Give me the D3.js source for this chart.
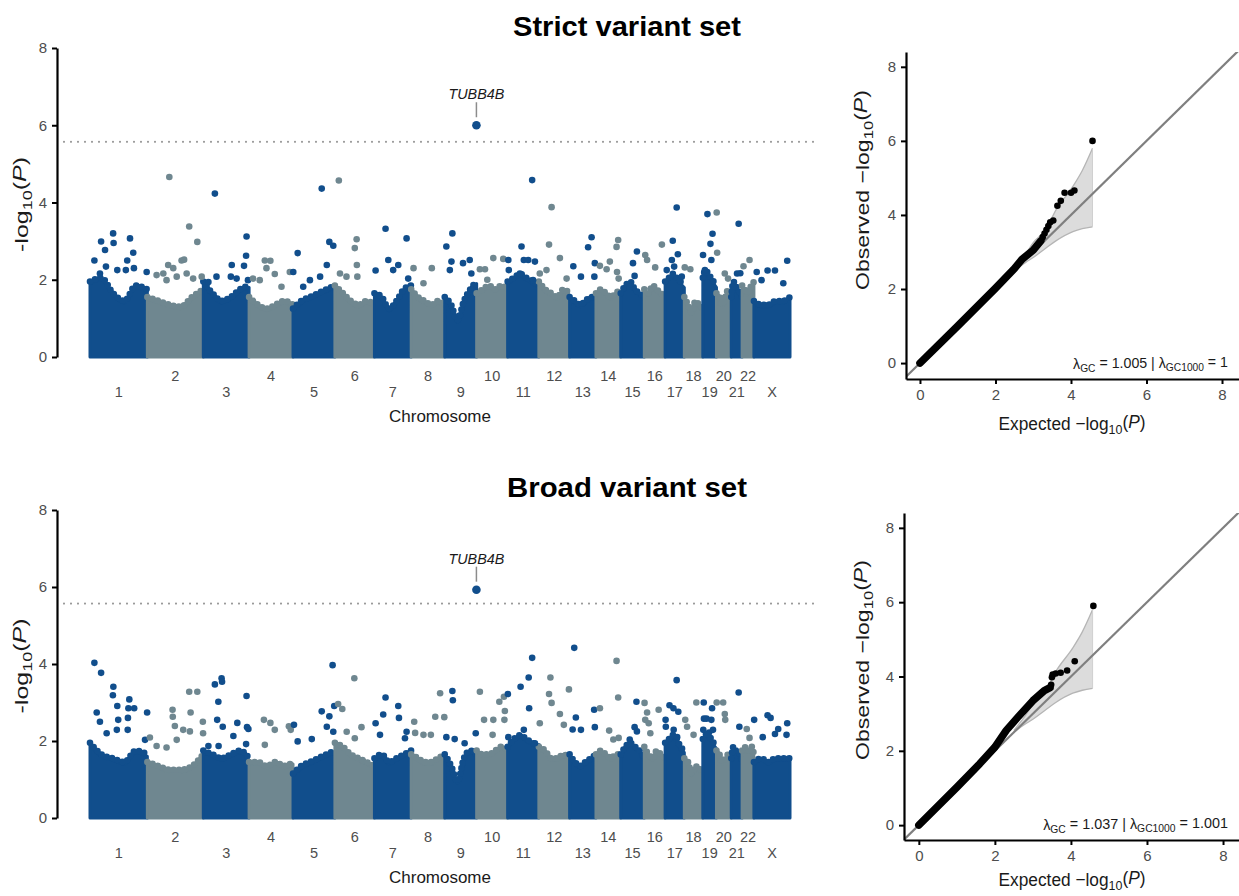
<!DOCTYPE html>
<html>
<head>
<meta charset="utf-8">
<script src="https://cdn.jsdelivr.net/npm/d3@7"></script>
<style>
  body { margin: 0; background: #fff; }
  text { font-family: "Liberation Sans", Arial, sans-serif; }
</style>
</head>
<body>
<script>
// chromosomes and their lengths (Mb)
const chromosomes = ["1","2","3","4","5","6","7","8","9","10","11","12","13","14","15","16","17","18","19","20","21","22","X"];
const chromLengthMb = [248,242,198,190,181,171,159,145,138,134,135,133,114,107,102,90,83,80,59,64,47,51,156];
const yTicks = [0, 2, 4, 6, 8];
const qqTicks = [0, 2, 4, 6, 8];
const suggestive = 5.57;

// top of the dense band of points, per chromosome, evenly spaced along it
const strictBand = [
  [1.9,2.0,1.6,1.4,1.8,1.7],[1.5,1.4,1.3,1.25,1.5,1.7],[1.9,1.6,1.4,1.5,1.7,1.8],[1.5,1.3,1.2,1.3,1.4,1.3],
  [1.2,1.4,1.5,1.6,1.7,1.8],[1.8,1.6,1.4,1.3,1.4,1.3],[1.6,1.5,1.2,1.4,1.7,1.8],[1.7,1.5,1.4,1.3,1.4,1.3],
  [1.5,1.3,0.9,1.4,1.7,1.9],[1.6,1.7,1.8,1.7,1.8,1.7],[1.9,2.0,2.1,2.0,1.9,1.8],[1.9,1.7,1.6,1.5,1.7,1.6],
  [1.5,1.4,1.3,1.4,1.5,1.5],[1.6,1.7,1.6,1.5,1.6,1.7],[1.6,1.8,1.9,1.7,1.6,1.5],[1.7,1.6,1.8,1.7,1.6,1.5],
  [1.9,2.0,2.1,2.0,1.9,1.8],[1.5,1.3,1.1,1.4,1.3,1.2],[2.0,2.2,2.1,2.0,1.9,1.8],[1.6,1.5,1.3,1.5,1.7,1.6],
  [1.5,1.9,1.8,1.7,1.6,1.5],[1.8,1.7,1.6,1.7,1.8,1.9],[1.4,1.3,1.3,1.4,1.4,1.5]
];
const broadBand = [
  [1.9,1.6,1.5,1.4,1.7,1.6],[1.4,1.3,1.2,1.2,1.3,1.6],[1.7,1.6,1.5,1.6,1.7,1.5],[1.4,1.4,1.3,1.4,1.3,1.4],
  [1.1,1.3,1.4,1.5,1.6,1.7],[1.9,1.8,1.6,1.5,1.4,1.3],[1.5,1.6,1.4,1.5,1.6,1.7],[1.6,1.5,1.4,1.4,1.5,1.6],
  [1.6,1.3,0.9,1.5,1.7,1.6],[1.7,1.6,1.6,1.7,1.8,1.7],[1.8,2.0,2.1,2.0,1.9,1.8],[1.8,1.7,1.5,1.5,1.6,1.5],
  [1.6,1.4,1.3,1.4,1.5,1.6],[1.6,1.7,1.6,1.5,1.6,1.6],[1.6,1.8,1.9,1.8,1.7,1.5],[1.8,1.6,1.5,1.7,1.6,1.5],
  [1.9,2.0,2.1,2.0,1.8,1.7],[1.5,1.4,1.1,1.3,1.2,1.3],[2.0,2.1,2.2,2.0,1.9,1.8],[1.7,1.6,1.4,1.5,1.6,1.6],
  [1.5,1.8,1.7,1.7,1.6,1.4],[1.7,1.8,1.7,1.7,1.8,1.6],[1.4,1.5,1.4,1.5,1.5,1.5]
];

// scattered variants above the band: [chromosome, position Mb, -log10 P]
const strictPeaks = [
  ["1",19,2.5],["1",43,2.16],["1",48,2.99],["1",65,2.77],["1",69,2.34],["1",100,3.2],["1",102,2.95],["1",118,2.25],
  ["1",155,2.25],["1",161,2.5],["1",173,3.07],["1",187,2.7],["1",190,2.3],["1",245,2.2],
  ["2",40,2.12],["2",69,2.16],["2",83,1.99],["2",90,2.38],["2",95,4.66],["2",112,2.3],["2",127,2.08],["2",148,2.5],
  ["2",159,2.52],["2",170,2.16],["2",181,3.38],["2",198,2.03],["2",216,2.98],["2",235,2.08],
  ["3",22,1.94],["3",50,4.23],["3",57,2.08],["3",119,2.08],["3",123,2.38],["3",144,2.03],["3",176,2.36],
  ["3",185,2.62],["3",187,3.12],["3",193,1.99],
  ["4",17,2.03],["4",46,1.99],["4",68,2.5],["4",75,2.3],["4",92,2.49],["4",111,2.15],["4",140,1.82],["4",176,2.2],
  ["5",1,2.2],["5",20,2.69],["5",44,1.82],["5",73,1.99],["5",117,2.08],["5",124,4.36],["5",146,2.38],["5",157,2.98],["5",174,2.88],
  ["6",17,4.57],["6",22,2.16],["6",50,2.08],["6",86,2.82],["6",94,3.05],["6",95,2.38],["6",97,2.08],
  ["7",5,2.24],["7",48,3.32],["7",60,2.51],["7",81,2.25],["7",103,2.38],["7",139,3.07],["7",146,2.03],
  ["8",10,2.3],["8",53,1.91],["8",89,2.3],
  ["9",7,2.86],["9",22,2.25],["9",29,2.47],["9",33,3.2],["9",79,2.43],["9",108,2.51],["9",115,2.16],
  ["10",14,2.27],["10",36,2.27],["10",46,2.0],["10",72,2.56],["10",115,2.54],
  ["11",3,2.51],["11",5,2.25],["11",53,2.16],["11",60,2.86],["11",70,2.51],["11",89,2.51],["11",106,4.58],["11",110,1.99],["11",118,2.47],
  ["12",4,2.16],["12",33,2.25],["12",44,2.91],["12",55,3.88],["12",91,2.56],["12",120,2.03],
  ["13",16,2.35],["13",49,2.08],["13",80,2.84],["13",95,3.1],["13",107,2.08],["13",109,2.43],
  ["14",17,2.36],["14",46,2.27],["14",60,2.47],["14",89,2.85],["14",91,2.2],["14",96,3.03],["14",98,2.03],
  ["15",39,1.82],["15",53,2.43],["15",60,2.1],["15",70,2.73],
  ["16",4,2.64],["16",12,2.51],["16",47,2.32],["16",76,2.91],
  ["17",7,2.25],["17",29,2.51],["17",33,3.01],["17",39,2.34],["17",50,3.87],["17",55,2.66],["17",72,2.08],
  ["18",2,2.32],["18",26,2.27],
  ["19",1,2.64],["19",9,2.25],["19",20,3.7],["19",33,2.93],["19",37,2.51],["19",42,3.19],
  ["20",1,3.74],["20",3,2.7],["20",36,2.16],["20",50,2.03],
  ["21",25,2.16],["21",32,3.45],["21",39,2.17],
  ["22",6,2.35],["22",32,2.51],
  ["X",12,2.2],["X",33,1.99],["X",59,2.24],["X",91,2.24],["X",127,1.91],["X",144,2.49]
];
const broadPeaks = [
  ["1",19,4.03],["1",29,2.74],["1",43,2.5],["1",48,3.77],["1",72,2.2],["1",99,3.19],["1",101,3.41],["1",116,2.29],
  ["1",118,2.91],["1",122,2.55],["1",163,2.29],["1",164,2.6],["1",166,2.85],["1",170,3.08],["1",191,2.85],["1",238,2.03],["1",247,2.74],
  ["2",11,2.09],["2",40,1.87],["2",83,1.83],["2",109,2.81],["2",110,2.63],["2",119,2.39],["2",127,2.03],["2",155,2.29],
  ["2",181,3.28],["2",184,2.25],["2",187,2.74],["2",216,3.28],["2",240,2.5],["2",241,2.2],
  ["3",22,1.87],["3",50,3.47],["3",60,2.55],["3",65,3.02],["3",66,1.87],["3",79,3.63],["3",81,3.54],["3",84,2.37],
  ["3",130,2.13],["3",147,2.47],["3",185,1.92],["3",187,3.17],["3",189,2.36],["3",195,2.31],
  ["4",64,2.55],["4",68,1.9],["4",92,2.47],["4",111,2.29],["4",172,2.38],["4",180,2.29],
  ["5",4,2.42],["5",20,1.99],["5",81,2.05],["5",124,2.77],["5",146,2.37],["5",157,2.64],["5",171,3.97],["5",174,2.24],["5",178,2.91],
  ["6",14,2.96],["6",32,2.83],["6",51,2.24],["6",84,3.63],["6",86,2.07],["6",115,2.36],
  ["7",5,2.46],["7",24,2.16],["7",38,2.69],["7",48,3.13],["7",103,2.91],["7",106,2.6],["7",132,2.07],["7",139,2.24],
  ["8",13,2.5],["8",17,2.21],["8",53,2.16],["8",85,2.16],["8",104,2.63],["8",125,3.24],["8",143,2.62],
  ["9",7,2.1],["9",33,3.3],["9",35,3.06],["9",43,2.05],["9",86,1.94],["9",134,2.2],
  ["10",14,3.28],["10",32,2.55],["10",69,2.16],["10",72,2.55],["10",98,3.02],["10",118,3.15],["10",120,2.55],["10",122,2.78],
  ["11",1,3.22],["11",3,2.1],["11",56,3.41],["11",70,2.29],["11",91,3.65],["11",93,2.85],["11",106,4.16],["11",118,1.94],
  ["12",4,2.46],["12",44,3.22],["12",50,3.65],["12",55,2.99],["12",91,2.7],["12",108,2.42],["12",130,3.34],
  ["13",13,2.3],["13",20,4.42],["13",27,2.61],["13",49,2.29],["13",106,2.81],["13",109,2.36],
  ["14",17,2.85],["14",57,2.27],["14",75,2.04],["14",89,4.08],["14",96,3.13],["14",98,2.08],
  ["15",39,2.04],["15",60,2.36],["15",68,3.02],["15",70,2.25],
  ["16",1,2.99],["16",4,2.55],["16",12,2.74],["16",19,2.46],["16",26,2.2],["16",62,2.81],
  ["17",2,2.55],["17",3,2.37],["17",19,2.93],["17",36,2.85],["17",37,2.29],["17",50,3.58],["17",52,2.1],["17",57,2.76],
  ["18",4,2.55],["18",12,2.37],["18",40,2.16],["18",52,3.0],
  ["19",2,2.29],["19",4,3.0],["19",5,2.58],["19",16,2.58],["19",37,2.55],["19",40,2.85],["19",44,2.29],
  ["20",1,3.0],["20",29,3.0],["20",36,2.7],["20",38,2.55],
  ["21",32,3.26],["21",35,2.37],
  ["22",20,2.31],["22",32,2.08],
  ["X",1,2.55],["X",38,2.1],["X",59,2.67],["X",72,2.6],["X",91,2.18],["X",105,2.31],["X",141,2.16],["X",144,2.46]
];
const strictHit = { chrom: "9", pos: 137, value: 6.0, gene: "TUBB4B" };
const broadHit = { chrom: "9", pos: 137, value: 5.93, gene: "TUBB4B" };

// QQ: dense trail of points along the diagonal, then the sparse tail [expected, observed]
const strictTrail = [[0,0],[1,1],[2,2.02],[2.5,2.55],[2.7,2.8],[3.0,3.05],[3.2,3.3]];
const strictTail = [[3.25,3.4],[3.3,3.5],[3.35,3.6],[3.4,3.7],[3.45,3.8],[3.53,3.85],[3.64,4.25],[3.73,4.38],[3.83,4.6],[4.0,4.6],[4.09,4.66],[4.57,6.0]];
const broadTrail = [[0,0],[1,1.02],[1.6,1.65],[2.0,2.1],[2.3,2.55],[2.6,2.9],[3.0,3.35],[3.3,3.62],[3.45,3.7]];
const broadTail = [[3.48,3.78],[3.5,3.98],[3.52,4.05],[3.6,4.08],[3.73,4.1],[3.9,4.16],[4.1,4.41],[4.59,5.9]];
// 95% band: [expected, lower, upper]
const ciBand = [[2.5,2.5,2.55],[2.8,2.72,2.95],[3.0,2.85,3.25],[3.33,3.1,3.6],[3.6,3.3,4.13],[4.05,3.55,4.77],[4.3,3.63,5.2],[4.57,3.68,5.8]];
const strictLambda = ["1.005", "1"];
const broadLambda = ["1.037", "1.001"];

const darkBlue = "#114e8c", slate = "#6f8790";
const tickGrey = "#4d4d4d";

const svg = d3.select("body").append("svg").attr("width", 1239).attr("height", 896);

const starts = [0, ...d3.cumsum(chromLengthMb)].slice(0, chromosomes.length);
const genome = d3.sum(chromLengthMb);
const x = d3.scaleLinear().domain([0, genome]).range([90, 790]);
const colorOf = ci => ci % 2 === 0 ? darkBlue : slate;

function logLabel(t, prefix, minus) {
  t.append("tspan").text(prefix + (minus ? "\u2212" : "-") + "log");
  t.append("tspan").attr("font-size", "0.72em").attr("dy", "0.3em").text("10");
  t.append("tspan").attr("dy", "-0.3em").text("(");
  t.append("tspan").attr("font-style", "italic").text("P");
  t.append("tspan").text(")");
}

// stretch a text along its own direction so it covers `len` pixels
function fit(t, len) {
  const n = t.node().getComputedTextLength();
  t.attr("transform", (t.attr("transform") || "") + ` scale(${len / n},1)`);
  return t;
}

function styleAxis(g) {
  g.select(".domain").attr("stroke", "#000").attr("stroke-width", 2.2);
  g.selectAll(".tick line").attr("stroke", "#000").attr("stroke-width", 2);
  g.selectAll(".tick text").attr("fill", tickGrey).attr("font-size", 15)
    .attr("font-family", "Liberation Sans, Arial, sans-serif");
}

function manhattan(o) {
  const y = d3.scaleLinear().domain([0, 8]).range([o.y0, o.y8]);
  const g = svg.append("g");

  fit(g.append("text").attr("transform", `translate(627,${o.titleY})`).attr("text-anchor", "middle")
    .attr("font-size", 28).attr("font-weight", "bold").text(o.title), o.titleLen);

  // dense band, with a dotted fringe along its top
  const area = d3.area().x(d => x(d[0])).y0(y(0)).y1(d => y(d[1])).curve(d3.curveMonotoneX);
  const top = d3.line().x(d => x(d[0])).y(d => y(d[1])).curve(d3.curveMonotoneX);
  o.band.forEach((vals, ci) => {
    const pts = vals.map((v, i) => [starts[ci] + chromLengthMb[ci] * i / (vals.length - 1), v]);
    g.append("path").attr("d", area(pts)).attr("fill", colorOf(ci))
      .attr("stroke", colorOf(ci)).attr("stroke-width", 3).attr("stroke-linejoin", "round");
    g.append("path").attr("d", top(pts)).attr("fill", "none").attr("stroke", colorOf(ci))
      .attr("stroke-width", 6.6).attr("stroke-linecap", "round").attr("stroke-dasharray", "0 5.5")
      .attr("transform", "translate(0,-2)");
  });

  // scattered points
  g.selectAll(".pk").data(o.peaks).join("circle")
    .attr("cx", d => x(starts[chromosomes.indexOf(d[0])] + d[1]))
    .attr("cy", d => y(d[2])).attr("r", 3.3)
    .attr("fill", d => colorOf(chromosomes.indexOf(d[0])));

  // threshold
  g.append("line").attr("x1", 64).attr("x2", 820).attr("y1", y(suggestive)).attr("y2", y(suggestive))
    .attr("stroke", "#9a9a9a").attr("stroke-width", 2.2).attr("stroke-dasharray", "0 7")
    .attr("stroke-linecap", "round");

  // top hit
  const hx = x(starts[chromosomes.indexOf(o.hit.chrom)] + o.hit.pos), hy = y(o.hit.value);
  g.append("line").attr("x1", hx).attr("x2", hx).attr("y1", hy - 8).attr("y2", hy - 23)
    .attr("stroke", "#8c8c8c").attr("stroke-width", 1.5);
  g.append("circle").attr("cx", hx).attr("cy", hy).attr("r", 4.3).attr("fill", colorOf(chromosomes.indexOf(o.hit.chrom)));
  fit(g.append("text").attr("transform", `translate(${hx},${hy - 26})`).attr("text-anchor", "middle")
    .attr("font-size", 14.5).attr("font-style", "italic").attr("fill", "#1a1a1a").text(o.hit.gene), 56);

  // y axis
  const ya = g.append("g").attr("transform", "translate(57,0)")
    .call(d3.axisLeft(y).tickValues(yTicks).tickSize(5).tickSizeOuter(0).tickPadding(5));
  styleAxis(ya);
  const yl = g.append("text").attr("transform", `translate(28,${(o.y0 + o.y8) / 2 + 2}) rotate(-90)`)
    .attr("text-anchor", "middle").attr("font-size", 19).attr("fill", "#1a1a1a");
  logLabel(yl, "", false);
  fit(yl, 95);

  // chromosome labels
  g.selectAll(".cl").data(chromosomes).join("text")
    .attr("x", (d, i) => x(starts[i] + chromLengthMb[i] / 2))
    .attr("y", (d, i) => i % 2 === 0 ? o.y0 + 40 : o.y0 + 24)
    .attr("text-anchor", "middle").attr("font-size", 14.5).attr("fill", tickGrey).text(d => d);
  fit(g.append("text").attr("transform", `translate(440,${o.y0 + 65})`).attr("text-anchor", "middle")
    .attr("font-size", 17).attr("fill", "#1a1a1a").text("Chromosome"), 102);
}

function qq(o) {
  const qx = d3.scaleLinear().domain(o.xDom).range([o.left, 1239]);
  const qy = d3.scaleLinear().domain(o.yDom).range([o.bottom, o.top]);
  const g = svg.append("g");
  const clipId = "clip" + o.bottom;
  g.append("clipPath").attr("id", clipId).append("rect")
    .attr("x", o.left).attr("y", o.top).attr("width", 1239 - o.left).attr("height", o.bottom - o.top);

  // confidence band
  const band = d3.area().x(d => qx(d[0])).y0(d => qy(d[1])).y1(d => qy(d[2])).curve(d3.curveMonotoneX);
  g.append("path").attr("d", band(ciBand)).attr("fill", "#dcdcdc");
  const edge = f => d3.line().x(d => qx(d[0])).y(f).curve(d3.curveMonotoneX);
  g.append("path").attr("d", edge(d => qy(d[1]))(ciBand)).attr("fill", "none").attr("stroke", "#b5b5b5").attr("stroke-width", 1.3);
  g.append("path").attr("d", edge(d => qy(d[2]))(ciBand)).attr("fill", "none").attr("stroke", "#b5b5b5").attr("stroke-width", 1.3);
  const last = ciBand[ciBand.length - 1];
  g.append("line").attr("x1", qx(last[0])).attr("x2", qx(last[0])).attr("y1", qy(last[1])).attr("y2", qy(last[2]))
    .attr("stroke", "#d0d0d0").attr("stroke-width", 1);

  // diagonal
  g.append("line").attr("clip-path", `url(#${clipId})`)
    .attr("x1", qx(-1)).attr("y1", qy(-1)).attr("x2", qx(10)).attr("y2", qy(10))
    .attr("stroke", "#7f7f7f").attr("stroke-width", 2.2);

  // points
  g.append("path").attr("d", d3.line().x(d => qx(d[0])).y(d => qy(d[1]))(o.trail))
    .attr("fill", "none").attr("stroke", "#000").attr("stroke-width", 7.5).attr("stroke-linecap", "round").attr("stroke-linejoin", "round");
  g.selectAll(".qp").data(o.tail).join("circle")
    .attr("cx", d => qx(d[0])).attr("cy", d => qy(d[1])).attr("r", 3.3).attr("fill", "#000");

  // axes
  const xa = g.append("g").attr("transform", `translate(0,${o.bottom})`)
    .call(d3.axisBottom(qx).tickValues(qqTicks).tickSize(5).tickSizeOuter(0).tickPadding(5));
  styleAxis(xa);
  const ya = g.append("g").attr("transform", `translate(${o.left},0)`)
    .call(d3.axisLeft(qy).tickValues(qqTicks).tickSize(5).tickSizeOuter(0).tickPadding(5));
  styleAxis(ya);

  const xl = g.append("text").attr("transform", `translate(1072,${o.bottom + o.xLabelGap})`).attr("text-anchor", "middle")
    .attr("font-size", 19).attr("fill", "#1a1a1a");
  logLabel(xl, "Expected ", true);
  fit(xl, 147);
  const yl = g.append("text").attr("transform", `translate(869,${o.labelMid}) rotate(-90)`)
    .attr("text-anchor", "middle").attr("font-size", 19).attr("fill", "#1a1a1a");
  logLabel(yl, "Observed ", true);
  fit(yl, 200);

  // genomic inflation
  const lt = g.append("text").attr("transform", `translate(1228,${o.bottom - 10})`).attr("text-anchor", "end")
    .attr("font-size", 14.5).attr("fill", "#1a1a1a");
  lt.append("tspan").text("\u03bb");
  lt.append("tspan").attr("font-size", "0.72em").attr("dy", "0.25em").text("GC");
  lt.append("tspan").attr("dy", "-0.25em").text(` = ${o.lambda[0]} | \u03bb`);
  lt.append("tspan").attr("font-size", "0.72em").attr("dy", "0.25em").text("GC1000");
  lt.append("tspan").attr("dy", "-0.25em").text(` = ${o.lambda[1]}`);
  fit(lt, o.lambdaLen);
}

manhattan({ title: "Strict variant set", titleY: 36, titleLen: 228, y0: 357, y8: 48, band: strictBand, peaks: strictPeaks, hit: strictHit });
manhattan({ title: "Broad variant set", titleY: 497, titleLen: 240, y0: 818, y8: 510, band: broadBand, peaks: broadPeaks, hit: broadHit });
qq({ left: 906, top: 52, bottom: 379, labelMid: 190, lambdaLen: 155, xLabelGap: 51, xDom: [-0.37, 8.45], yDom: [-0.43, 8.4], trail: strictTrail, tail: strictTail, lambda: strictLambda });
qq({ left: 904, top: 513, bottom: 840, labelMid: 660, lambdaLen: 185, xLabelGap: 46, xDom: [-0.39, 8.42], yDom: [-0.4, 8.4], trail: broadTrail, tail: broadTail, lambda: broadLambda });
</script>
</body>
</html>
